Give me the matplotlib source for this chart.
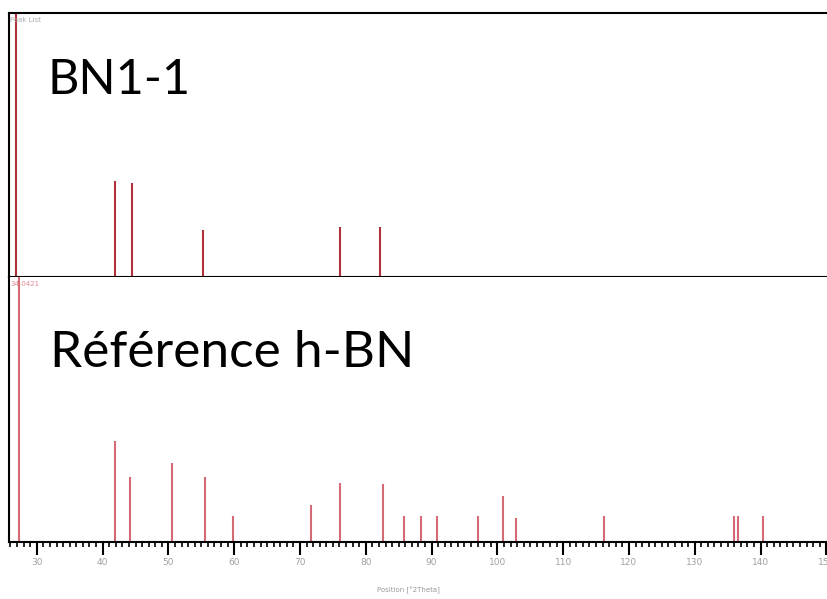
import matplotlib
matplotlib.use("Agg")
import matplotlib.pyplot as plt
from matplotlib.ticker import MultipleLocator

# Peak List BN1-1 (position 2theta, rel. intensity %)
pos_bn = [26.88, 41.93, 44.41, 55.26, 76.12, 82.20]
int_bn = [100, 36.4, 35.6, 17.7, 19.0, 19.0]

# reference h-BN 34-0421
pos_ref = [27.23, 41.93, 44.10, 50.55, 55.50, 59.76, 71.67, 76.12, 82.55,
           85.85, 88.39, 90.82, 96.99, 100.90, 102.83, 116.20, 135.90,
           136.50, 140.36]
int_ref = [100, 38.3, 24.5, 30.0, 24.5, 9.9, 14.0, 22.4, 21.8,
           9.9, 9.9, 9.9, 9.9, 17.4, 9.3, 9.9, 9.9, 9.9, 9.9]

xmin, xmax = 25.7, 150.1

fig = plt.figure(figsize=(8.27, 5.99), dpi=100)
ax1 = fig.add_axes([0.0103, 0.5381, 0.9897, 0.4402])
ax2 = fig.add_axes([0.0103, 0.0947, 0.9897, 0.4434])

for ax in (ax1, ax2):
    ax.set_xlim(xmin, xmax)
    ax.set_ylim(0, 100)
    ax.set_yticks([])
    ax.spines['right'].set_visible(False)
    for s in ('left', 'top', 'bottom'):
        ax.spines[s].set_linewidth(1.5)
ax2.spines['top'].set_visible(False)

ax1.vlines(pos_bn, 0, int_bn, color='#b0303c', lw=1.5)
ax2.vlines(pos_ref, 0, int_ref, color='#d46a74', lw=1.5)

ax1.set_xticks([])
ax2.xaxis.set_major_locator(MultipleLocator(10))
ax2.xaxis.set_minor_locator(MultipleLocator(1))
ax2.tick_params(axis='x', which='major', length=9, width=1.5, pad=2,
                labelsize=6.5, labelcolor='#a0a0a0')
ax2.tick_params(axis='x', which='minor', length=3.5, width=1.2)

ax1.text(0.002, 0.985, 'Peak List', transform=ax1.transAxes, fontsize=5,
         color='#aaaaaa', va='top')
ax2.text(0.002, 0.985, '34-0421', transform=ax2.transAxes, fontsize=5,
         color='#e08890', va='top')

fig.text(0.0577, 0.843, 'BN1-1', fontsize=35, family='Lato', va='baseline')
fig.text(0.0605, 0.3878, 'Référence h-BN', fontsize=37, family='Lato',
         va='baseline')
fig.text(0.494, 0.008, 'Position [°2Theta]', fontsize=5, color='#999999',
         ha='center', va='bottom')

fig.savefig('out.png', dpi=100)
